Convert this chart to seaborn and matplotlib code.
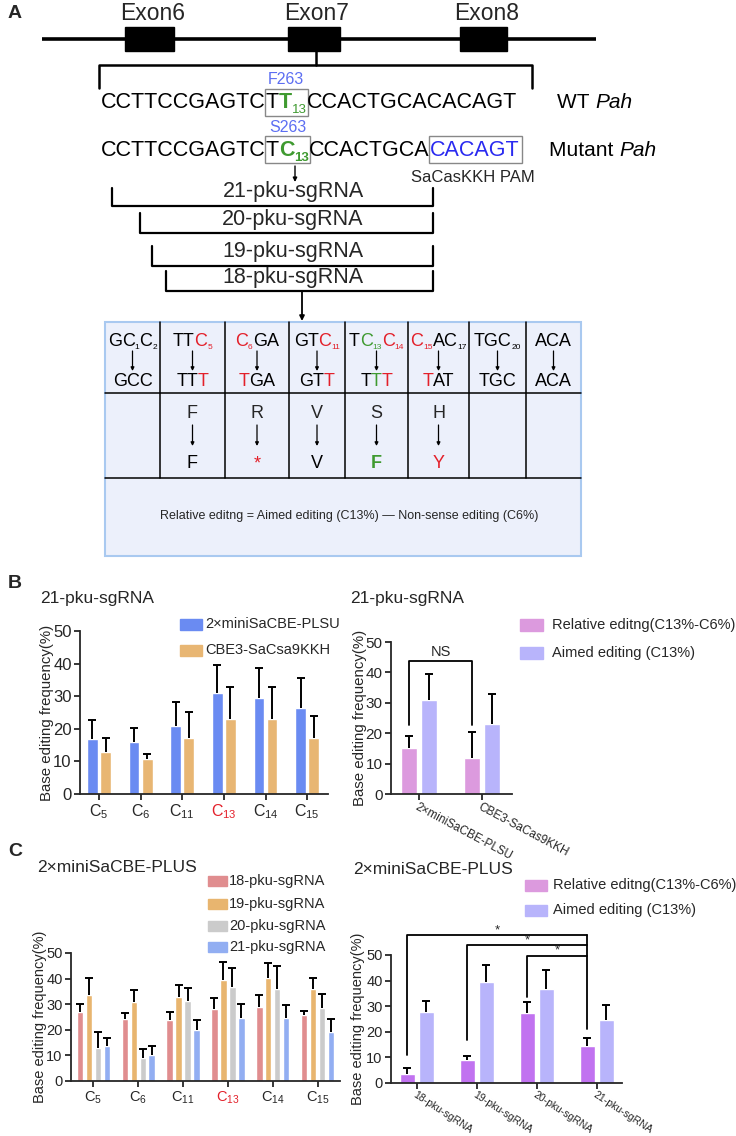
import numpy as np
import pandas as pd
import matplotlib
matplotlib.use("Agg")
import matplotlib.pyplot as plt
import seaborn as sns
from matplotlib.patches import Rectangle

# ---------------- data ----------------
sites = ["C5", "C6", "C11", "C13", "C14", "C15"]
site_ticklabels = [r"C$_{5}$", r"C$_{6}$", r"C$_{11}$", r"C$_{13}$", r"C$_{14}$", r"C$_{15}$"]

b_editors = ["2×miniSaCBE-PLSU", "CBE3-SaCsa9KKH"]
b_plsu_mean = [16.8, 15.9, 20.8, 30.9, 29.3, 26.4]
b_plsu_sd = [5.9, 4.3, 7.3, 8.6, 9.4, 9.3]
b_cbe3_mean = [12.8, 10.8, 17.3, 23.0, 23.0, 17.3]
b_cbe3_sd = [4.4, 1.4, 7.9, 9.8, 9.8, 6.5]

br_groups = ["2×miniSaCBE-PLSU", "CBE3-SaCas9KKH"]
br_series = ["Relative editng(C13%-C6%)", "Aimed editing (C13%)"]
br_relative_mean = [15.0, 12.0]
br_relative_sd = [4.1, 8.4]
br_aimed_mean = [30.9, 23.0]
br_aimed_sd = [8.7, 9.8]

c_guides = ["18-pku-sgRNA", "19-pku-sgRNA", "20-pku-sgRNA", "21-pku-sgRNA"]
c18_mean = [26.8, 24.3, 24.0, 28.0, 28.8, 25.7]
c18_sd = [3.2, 2.3, 2.8, 4.4, 4.9, 1.6]
c19_mean = [33.7, 30.7, 32.7, 39.6, 40.3, 36.1]
c19_sd = [6.5, 5.0, 4.9, 6.8, 5.6, 4.3]
c20_mean = [12.9, 9.0, 31.1, 36.7, 36.1, 28.4]
c20_sd = [6.2, 3.6, 5.2, 7.6, 8.8, 5.7]
c21_mean = [13.5, 10.0, 20.0, 24.6, 24.6, 19.0]
c21_sd = [3.3, 3.5, 3.7, 5.6, 5.1, 5.2]

cr_relative_mean = [3.5, 9.0, 27.5, 14.4]
cr_relative_sd = [2.3, 1.6, 4.2, 3.0]
cr_aimed_mean = [27.9, 39.5, 36.6, 24.5]
cr_aimed_sd = [4.3, 6.6, 7.6, 5.8]

# ---------------- style ----------------
sns.set_style("ticks")
plt.rcParams["font.family"] = ["Liberation Sans", "DejaVu Sans"]
plt.rcParams["mathtext.fontset"] = "custom"
plt.rcParams["mathtext.rm"] = "Liberation Sans"
plt.rcParams["mathtext.it"] = "Liberation Sans:italic"
plt.rcParams["mathtext.default"] = "regular"

W, H = 736, 1136
fig = plt.figure(figsize=(W / 100, H / 100), dpi=100)
fig.patch.set_facecolor("white")

ov = fig.add_axes([0, 0, 1, 1])
ov.set_xlim(0, W)
ov.set_ylim(H, 0)
ov.axis("off")
ov.patch.set_alpha(0)

renderer = fig.canvas.get_renderer()

GREEN = "#3f9a30"
RED = "#e3202a"
SEQBLUE = "#5c6ef2"
PAMBLUE = "#2a2af0"


def segs_draw(x, y, segs, ha="left"):
    """segs: list of (text, size, color, weight, dy, style)"""
    texts = []
    for s in segs:
        txt, size, color, weight, dy, style = (list(s) + [None] * 6)[:6]
        t = ov.text(0, y + (dy or 0), txt, fontsize=size, color=color or "black",
                    fontweight=weight or "normal", fontstyle=style or "normal",
                    ha="left", va="baseline")
        texts.append(t)
    widths = [t.get_window_extent(renderer).width for t in texts]
    total = sum(widths)
    x0 = x - total / 2 if ha == "center" else x
    ext = []
    for t, w in zip(texts, widths):
        t.set_x(x0)
        ext.append((x0, x0 + w))
        x0 += w
    return ext


def arrow(x, y0, y1, lw=0.9, ms=5):
    ov.annotate("", xy=(x, y1), xytext=(x, y0),
                arrowprops=dict(arrowstyle="-|>", color="black", lw=lw, mutation_scale=ms,
                                shrinkA=0, shrinkB=0))


# ---------------- Panel A ----------------
ov.text(8, 14, "A", fontsize=14, fontweight="bold", va="center", ha="left")
ov.plot([42, 596], [39, 39], color="black", lw=2.6, solid_capstyle="butt")
for x0, x1, lab in [(125, 174, "Exon6"), (288, 340, "Exon7"), (460, 507, "Exon8")]:
    ov.add_patch(Rectangle((x0, 27), x1 - x0, 24, color="black", zorder=3))
    ov.text((x0 + x1) / 2 + 3, 13, lab, fontsize=16.5, ha="center", va="center")
ov.plot([316, 316], [51, 65], color="black", lw=1.8)
ov.plot([99, 99, 532, 532], [88, 65, 65, 88], color="black", lw=1.8)

SZ = 15.5
SUB = 9.5
wt = segs_draw(101, 108, [("CCTTCCGAGTC", SZ), ("T", SZ), ("T", SZ, GREEN, "bold"),
                          ("13", SUB, GREEN, None, 5), ("CCACTGCACACAGT", SZ)])
bx0, bx1 = wt[1][0] - 1, wt[3][1] + 1
ov.add_patch(Rectangle((bx0, 89), bx1 - bx0, 27, fill=False, ec="#888888", lw=1))
ov.text((bx0 + bx1) / 2, 80, "F263", fontsize=11.5, color=SEQBLUE, ha="center", va="center")
segs_draw(557, 108, [("WT ", 15), ("Pah", 15, None, None, 0, "italic")])

mt = segs_draw(101, 156, [("CCTTCCGAGTC", SZ), ("T", SZ), ("C", SZ, GREEN, "bold"),
                          ("13", SUB, GREEN, "bold", 5), ("CCACTGCA", SZ), ("CACAGT", SZ, PAMBLUE)])
bx0, bx1 = mt[1][0] - 1, mt[3][1] + 1
ov.add_patch(Rectangle((bx0, 136), bx1 - bx0, 27, fill=False, ec="#888888", lw=1))
ov.text((bx0 + bx1) / 2, 127, "S263", fontsize=11.5, color=SEQBLUE, ha="center", va="center")
px0, px1 = mt[5][0] - 1, mt[5][1] + 2
ov.add_patch(Rectangle((px0, 136), px1 - px0, 27, fill=False, ec="#888888", lw=1))
segs_draw(549, 156, [("Mutant ", 15), ("Pah", 15, None, None, 0, "italic")])
ov.text(473, 177, "SaCasKKH PAM", fontsize=12, ha="center", va="center")
arrow(295, 166, 182, lw=1, ms=6)

for lab, xl, ytop, yline, ylab in [("21-pku-sgRNA", 112, 188, 206, 192),
                                    ("20-pku-sgRNA", 140, 213, 233, 220),
                                    ("19-pku-sgRNA", 152, 246, 266, 252),
                                    ("18-pku-sgRNA", 166, 271, 291, 277)]:
    ov.plot([xl, xl, 433, 433], [ytop, yline, yline, ytop], color="black", lw=1.6)
    ov.text(293, ylab, lab, fontsize=15.5, ha="center", va="center")
arrow(302, 291, 321, lw=1.3, ms=7)

# table
tx = [105, 160, 225, 289, 345, 408, 469, 526, 581]
tt, tb = 322, 556
r1, r2 = 393, 478
ov.add_patch(Rectangle((tx[0], tt), tx[-1] - tx[0], tb - tt, fc="#ecf0fb", ec="#a9c9f0", lw=1.5))
ov.plot([tx[0], tx[-1]], [r1, r1], color="black", lw=1.1)
ov.plot([tx[0], tx[-1]], [r2, r2], color="black", lw=1.1)
for xv in tx[1:-1]:
    ov.plot([xv, xv], [tt, r2], color="black", lw=1.1)

TS = 13
TSUB = 6
top_codons = [
    [("G", TS), ("C", TS), ("1", TSUB, None, None, 3), ("C", TS), ("2", TSUB, None, None, 3)],
    [("TT", TS), ("C", TS, RED), ("5", TSUB, RED, None, 3)],
    [("C", TS, RED), ("6", TSUB, RED, None, 3), ("GA", TS)],
    [("GT", TS), ("C", TS, RED), ("11", TSUB, RED, None, 3)],
    [("T", TS), ("C", TS, GREEN), ("13", TSUB, GREEN, None, 3), ("C", TS, RED), ("14", TSUB, RED, None, 3)],
    [("C", TS, RED), ("15", TSUB, RED, None, 3), ("AC", TS), ("17", TSUB, None, None, 3)],
    [("TGC", TS), ("20", TSUB, None, None, 3)],
    [("ACA", TS)],
]
bot_codons = [
    [("GCC", TS)],
    [("TT", TS), ("T", TS, RED)],
    [("T", TS, RED), ("GA", TS)],
    [("GT", TS), ("T", TS, RED)],
    [("T", TS), ("T", TS, GREEN), ("T", TS, RED)],
    [("T", TS, RED), ("AT", TS)],
    [("TGC", TS)],
    [("ACA", TS)],
]
aa_top = ["", "F", "R", "V", "S", "H", "", ""]
aa_bot = [("", None, None), ("F", None, None), ("*", RED, None), ("V", None, None),
          ("F", GREEN, "bold"), ("Y", RED, None), ("", None, None), ("", None, None)]
for i in range(8):
    cx = (tx[i] + tx[i + 1]) / 2
    segs_draw(cx, 346, top_codons[i], ha="center")
    segs_draw(cx, 386, bot_codons[i], ha="center")
    arrow(cx, 351, 371, lw=0.9, ms=5)
    if aa_top[i]:
        ov.text(cx, 418, aa_top[i], fontsize=TS, ha="center", va="baseline")
        t, c, wgt = aa_bot[i]
        ov.text(cx, 468, t, fontsize=TS, ha="center", va="baseline", color=c or "black",
                fontweight=wgt or "normal")
        arrow(cx, 425, 446, lw=0.9, ms=5)
ov.text(349, 516, "Relative editng = Aimed editing (C13%) \u2014 Non-sense editing (C6%)",
        fontsize=9, ha="center", va="center")

# ---------------- helpers for charts ----------------


def make_ax(left, right, top, bottom):
    ax = fig.add_axes([left / W, 1 - bottom / H, (right - left) / W, (bottom - top) / H])
    ax.patch.set_alpha(0)
    return ax


def style_ax(ax, ysize):
    sns.despine(ax=ax)
    for s in ["left", "bottom"]:
        ax.spines[s].set_linewidth(1.3)
    ax.tick_params(axis="both", width=1.3, length=4, direction="out", labelsize=ysize, pad=2)
    ax.set_ylim(0, 50)
    ax.set_yticks([0, 10, 20, 30, 40, 50])
    ax.set_xlabel("")


def add_err(ax, sds_per_hue):
    for cont, sds in zip(ax.containers, sds_per_hue):
        for bar, sd in zip(cont, sds):
            xc = bar.get_x() + bar.get_width() / 2
            h = bar.get_height()
            ax.vlines(xc, h, h + sd, color="black", lw=1.4, zorder=1)
            ax.plot([xc], [h + sd], marker="_", ms=6, mew=1.4, color="black", zorder=1,
                    clip_on=False)


def legend_items(x, ys, colors, labels, size, w=22, h=11, gap=4):
    for y, c, l in zip(ys, colors, labels):
        ov.add_patch(Rectangle((x, y - h / 2), w, h, color=c))
        ov.text(x + w + gap, y, l, fontsize=size, ha="left", va="center")


# ---------------- Panel B left ----------------
ov.text(8, 583, "B", fontsize=14, fontweight="bold", va="center", ha="left")
ov.text(40, 598, "21-pku-sgRNA", fontsize=12.5, va="center", ha="left")
BBLUE, BORANGE = "#6a8bf2", "#e8b673"
dfb = pd.DataFrame({
    "site": sites * 2,
    "editor": [b_editors[0]] * 6 + [b_editors[1]] * 6,
    "value": b_plsu_mean + b_cbe3_mean,
})
axb = make_ax(80, 328, 631, 794)
sns.barplot(data=dfb, x="site", y="value", hue="editor", order=sites, hue_order=b_editors,
            palette=[BBLUE, BORANGE], width=0.63, gap=0.18, errorbar=None, legend=False,
            saturation=1, ax=axb)
add_err(axb, [b_plsu_sd, b_cbe3_sd])
style_ax(axb, 12)
axb.set_xlim(-0.457, 5.5)
axb.set_xticks(range(6))
axb.set_xticklabels(site_ticklabels, fontsize=11.5)
axb.get_xticklabels()[3].set_color(RED)
axb.set_ylabel("Base editing frequency(%)", fontsize=10.8)
axb.yaxis.set_label_coords(-0.105, 0.5)
legend_items(180, [624, 650], [BBLUE, BORANGE], b_editors, 10.5, w=22, h=11, gap=3)

# ---------------- Panel B right ----------------
ov.text(350, 598, "21-pku-sgRNA", fontsize=12.5, va="center", ha="left")
PINK, LAV = "#dc9ade", "#b8b4fb"
dfbr = pd.DataFrame({
    "group": br_groups * 2,
    "series": [br_series[0]] * 2 + [br_series[1]] * 2,
    "value": br_relative_mean + br_aimed_mean,
})
axbr = make_ax(391, 512, 642, 794)
sns.barplot(data=dfbr, x="group", y="value", hue="series", order=br_groups, hue_order=br_series,
            palette=[PINK, LAV], width=0.635, gap=0.2, errorbar=None, legend=False,
            saturation=1, ax=axbr)
add_err(axbr, [br_relative_sd, br_aimed_sd])
style_ax(axbr, 11)
axbr.set_xlim(-0.444, 1.476)
axbr.set_xticks([0, 1])
axbr.set_xticklabels(br_groups, fontsize=8.5, rotation=-28, ha="left", va="top",
                     rotation_mode="anchor")
axbr.tick_params(axis="x", pad=1)
axbr.set_ylabel("Base editing frequency(%)", fontsize=10.8)
axbr.yaxis.set_label_coords(-0.2, 0.5)
p0 = axbr.containers[0][0]
p1 = axbr.containers[0][1]
xa = p0.get_x() + p0.get_width() / 2
xb = p1.get_x() + p1.get_width() / 2
axbr.plot([xa, xa, xb, xb], [22.6, 43.8, 43.8, 22.6], color="black", lw=1.3, clip_on=False)
axbr.text((xa + xb) / 2, 46.7, "NS", fontsize=10.5, ha="center", va="center")
legend_items(520, [625, 653], [PINK, LAV], br_series, 10.5, w=23, h=12, gap=9)

# ---------------- Panel C left ----------------
ov.text(8, 852, "C", fontsize=14, fontweight="bold", va="center", ha="left")
ov.text(37, 868, "2×miniSaCBE-PLUS", fontsize=12.5, va="center", ha="left")
CRED, CORG, CGRY, CBLU = "#e08d8f", "#e8b56f", "#cbcbcb", "#92aef2"
dfc = pd.DataFrame({
    "site": sites * 4,
    "guide": sum([[g] * 6 for g in c_guides], []),
    "value": c18_mean + c19_mean + c20_mean + c21_mean,
})
axc = make_ax(71, 340, 953, 1081)
sns.barplot(data=dfc, x="site", y="value", hue="guide", order=sites, hue_order=c_guides,
            palette=[CRED, CORG, CGRY, CBLU], width=0.8, gap=0.28, errorbar=None, legend=False,
            saturation=1, ax=axc)
add_err(axc, [c18_sd, c19_sd, c20_sd, c21_sd])
style_ax(axc, 10.5)
axc.set_xlim(-0.5, 5.5)
axc.set_xticks(range(6))
axc.set_xticklabels(site_ticklabels, fontsize=10.5)
axc.get_xticklabels()[3].set_color(RED)
axc.set_ylabel("Base editing frequency(%)", fontsize=10.5)
axc.yaxis.set_label_coords(-0.09, 0.5)
legend_items(208, [881, 904, 926, 947], [CRED, CORG, CGRY, CBLU], c_guides, 10.5, w=19, h=10, gap=2)

# ---------------- Panel C right ----------------
ov.text(353, 870, "2×miniSaCBE-PLUS", fontsize=12.5, va="center", ha="left")
PURPLE = "#c172f0"
dfcr = pd.DataFrame({
    "guide": c_guides * 2,
    "series": [br_series[0]] * 4 + [br_series[1]] * 4,
    "value": cr_relative_mean + cr_aimed_mean,
})
axcr = make_ax(391, 622, 955, 1083)
sns.barplot(data=dfcr, x="guide", y="value", hue="series", order=c_guides, hue_order=br_series,
            palette=[PURPLE, LAV], width=0.633, gap=0.21, errorbar=None, legend=False,
            saturation=1, ax=axcr)
add_err(axcr, [cr_relative_sd, cr_aimed_sd])
style_ax(axcr, 10.5)
axcr.set_xlim(-0.433, 3.417)
axcr.set_xticks(range(4))
axcr.set_xticklabels(c_guides, fontsize=7.5, rotation=-33, ha="left", va="top",
                     rotation_mode="anchor")
axcr.tick_params(axis="x", pad=1)
axcr.set_ylabel("Base editing frequency(%)", fontsize=10.5)
axcr.yaxis.set_label_coords(-0.113, 0.5)
pc = [b.get_x() + b.get_width() / 2 for b in axcr.containers[0]]
xr = pc[3]
for xl, ylow, yl in [(pc[0], 11.0, 57.8), (pc[1], 16.8, 53.9), (pc[2], 33.5, 49.7)]:
    axcr.plot([xl, xl, xr], [ylow, yl, yl], color="black", lw=1.3, clip_on=False)
    axcr.text((xl + xr) / 2, yl + 1.9, "*", fontsize=9.5, ha="center", va="center")
axcr.plot([xr, xr], [57.8, 21.0], color="black", lw=1.3, clip_on=False)
legend_items(525, [885, 910], [PINK, LAV], br_series, 10.5, w=22, h=11, gap=6)

fig.savefig("out.png", dpi=100, facecolor="white")
